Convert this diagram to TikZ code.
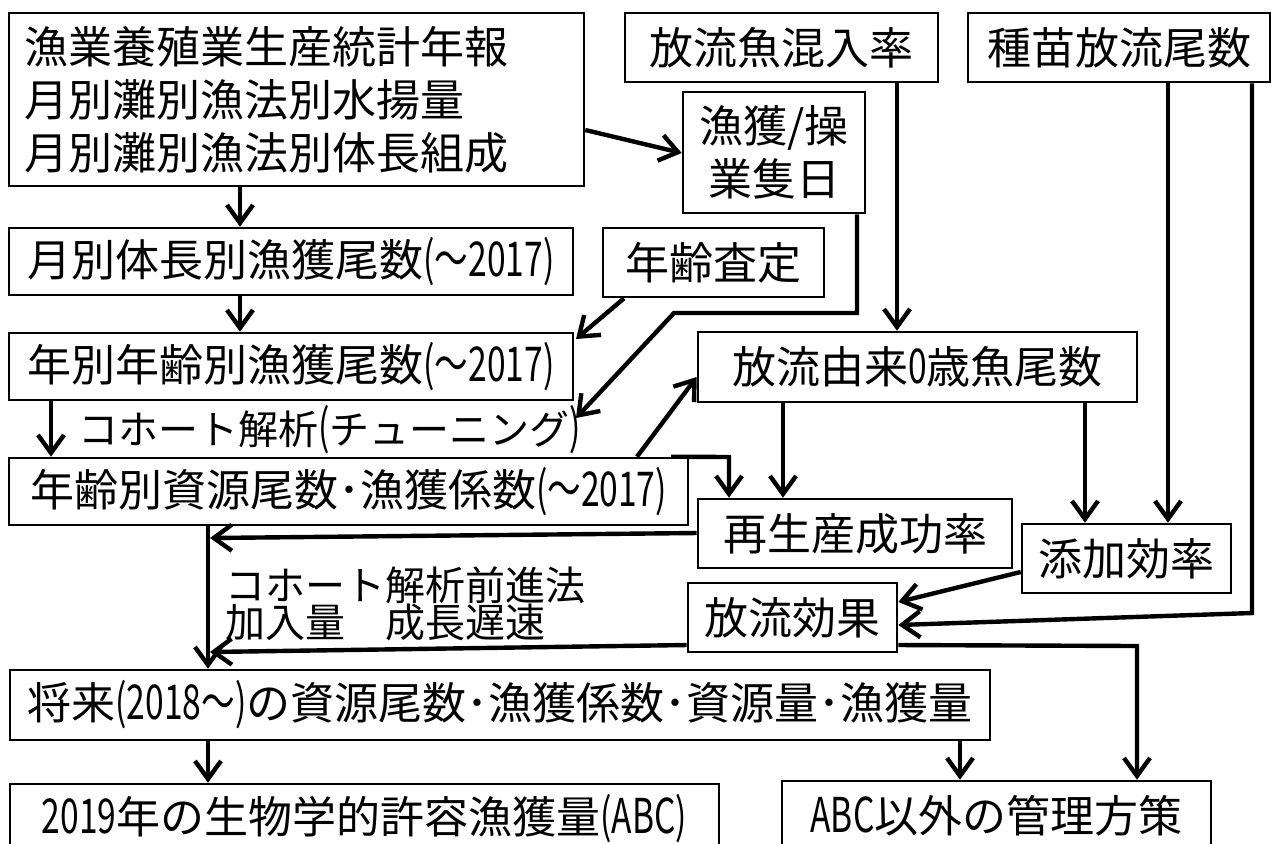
\documentclass[tikz,border=0pt]{standalone}
\usepackage{fontspec}
\setmainfont{Noto Sans CJK JP}
\newfontfamily\nar[FakeStretch=0.7]{Noto Sans CJK JP}
\usetikzlibrary{arrows.meta,calc}
\newcommand{\lat}[1]{{\nar\fontsize{24pt}{24pt}\selectfont #1}}
\begin{document}
\begin{tikzpicture}[x=0.5pt,y=-0.5pt,
  box/.style={draw, line width=1.3pt, inner sep=0pt, font=\fontsize{22pt}{26.5pt}\selectfont, align=center},
  lbl/.style={inner sep=0pt, font=\fontsize{20pt}{18.5pt}\selectfont},
  arr/.style={line width=2.2pt, -{Straight Barb[length=9pt,width=13pt,line width=2.2pt]}},
  ln/.style={line width=2.2pt}]
\fill[white] (0,0) rectangle (1274,843);
\useasboundingbox (0,0) rectangle (1274,843);
\clip (0,0) rectangle (1274,843);

% boxes
\node[box, minimum width=287.5pt, minimum height=86.5pt, text width=271.5pt, align=left] (B1) at (296.5,99.5)
  {漁業養殖業生産統計年報\\月別灘別漁法別水揚量\\月別灘別漁法別体長組成};
\node[box, minimum width=282pt, minimum height=33.5pt] (B2) at (291,261.5) {月別体長別漁獲尾数\lat{(～2017)}};
\node[box, minimum width=282pt, minimum height=33.5pt] (B3) at (291,366.5) {年別年齢別漁獲尾数\lat{(～2017)}};
\node[box, minimum width=339.5pt, minimum height=33.5pt] (B4) at (348.5,491.5) {年齢別資源尾数･漁獲係数\lat{(～2017)}};
\node[box, minimum width=110.5pt, minimum height=34.5pt] (nenrei) at (713.5,262.5) {年齢査定};
\node[box, minimum width=91pt, minimum height=60.5pt] (gyo) at (774,152.5) {漁獲/操\\業隻日};
\node[box, minimum width=156.5pt, minimum height=34.5pt] (mix) at (781.5,47.5) {放流魚混入率};
\node[box, minimum width=151pt, minimum height=34.5pt] (seed) at (1119,47.5) {種苗放流尾数};
\node[box, minimum width=219.5pt, minimum height=35pt] (hr0) at (917.5,367) {放流由来\lat{0}歳魚尾数};
\node[box, minimum width=157pt, minimum height=34.5pt] (saisei) at (855,533.5) {再生産成功率};
\node[box, minimum width=104.5pt, minimum height=34.5pt] (tenka) at (1126.5,558.5) {添加効率};
\node[box, minimum width=104.5pt, minimum height=34.5pt] (kouka) at (792.5,617.5) {放流効果};
\node[box, minimum width=490pt, minimum height=35pt] (shorai) at (500,705) {将来\lat{(2018～)}の資源尾数･漁獲係数･資源量･漁獲量};
\node[box, minimum width=354.5pt, minimum height=34.5pt] (abc) at (364.5,818.5) {\lat{2019}年の生物学的許容漁獲量\lat{(ABC)}};
\node[box, minimum width=214.5pt, minimum height=34.5pt] (other) at (996.5,815.5) {\lat{ABC}以外の管理方策};

% labels
\node[lbl, anchor=west] (c1) at (78,430) {コホート解析\lat{(}チューニング\lat{)}};
\node[lbl, anchor=north west, align=left] (c2) at (225,566) {コホート解析前進法\\加入量　成長遅速};

% free ends
\coordinate (t4) at (576,339);
\coordinate (t5) at (576,418);
\coordinate (k5a) at (857,313);
\coordinate (k5b) at (674,313);
\coordinate (k9) at (729,457);
\coordinate (k13) at (1252,613);
\coordinate (v1) at (210,538);
\coordinate (v2) at (210,652);
\coordinate (k20) at (1137,646);

% connectors
\draw[arr] (B1.east |- 0,130) -- (gyo.west |- 0,153);
\draw[arr] (B1.south -| 240,0) -- (B2.north -| 240,0);
\draw[arr] (B2.south -| 240,0) -- (B3.north -| 240,0);
\draw[arr] (nenrei.south -| 624,0) -- (t4);
\draw[arr] (gyo.south -| 857,0) -- (k5a) -- (k5b) -- (t5);
\draw[arr] (mix.south -| 897,0) -- (hr0.north -| 897,0);
\draw[arr] (B3.south -| 51,0) -- (B4.north -| 51,0);
\draw[arr] (B4.north -| 637,0) -- (hr0.west |- 0,377);
\draw[arr] (B4.north -| 671,0) -- (k9) -- (saisei.north -| 729,0);
\draw[arr] (hr0.south -| 783,0) -- (saisei.north -| 783,0);
\draw[arr] (hr0.south -| 1085,0) -- (tenka.north -| 1085,0);
\draw[arr] (seed.south -| 1168,0) -- (tenka.north -| 1168,0);
\draw[arr] (seed.south -| 1252,0) -- (k13) -- (kouka.east |- 0,625);
\draw[arr] (tenka.west |- 0,572) -- (kouka.east |- 0,602);
\draw[arr] (saisei.west |- 0,533) -- (v1);
\draw[arr] (kouka.west |- 0,645) -- (v2);
\draw[arr] (B4.south -| 208,0) -- (shorai.north -| 208,0);
\draw[arr] (shorai.south -| 208,0) -- (abc.north -| 208,0);
\draw[arr] (shorai.south -| 960,0) -- (other.north -| 960,0);
\draw[arr] (kouka.east |- 0,645) -- (k20) -- (other.north -| 1137,0);
\end{tikzpicture}
\end{document}
